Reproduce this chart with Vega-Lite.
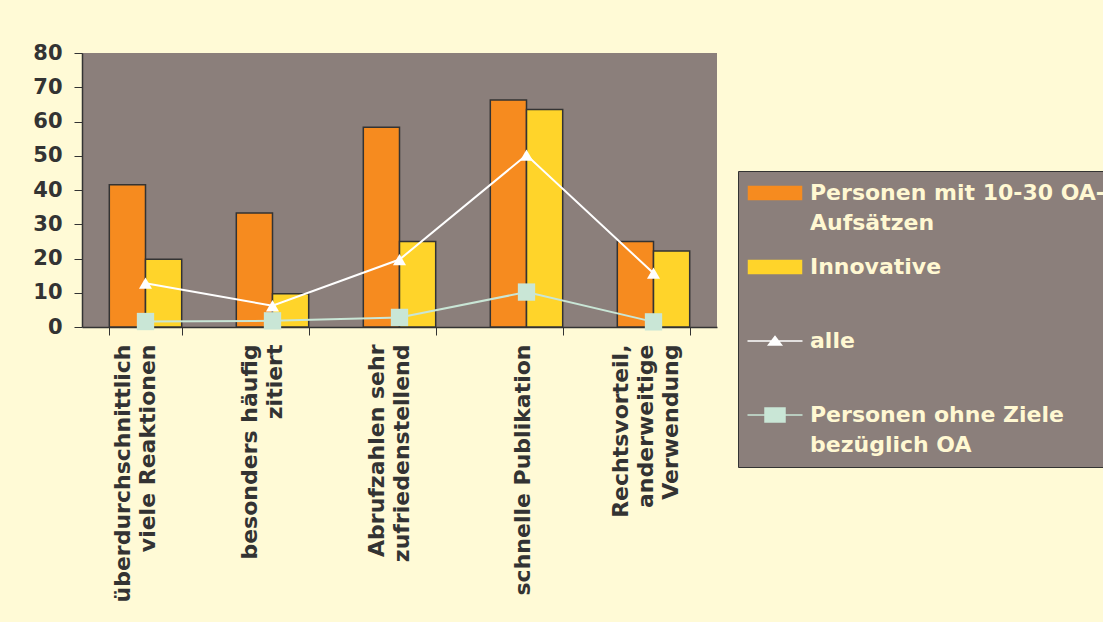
{
  "$schema": "https://vega.github.io/schema/vega-lite/v6.json",
  "width": 635,
  "height": 274,
  "autosize": {"type": "none"},
  "padding": {"left": 82, "top": 53, "right": 386, "bottom": 295},
  "background": "#FFFAD6",
  "config": {"view": {"fill": "#8B7F7B", "stroke": null}, "font": "DejaVu Sans"},
  "data": {
    "values": [
      {"cat": "überdurchschnittlich|viele Reaktionen", "series": "Personen mit 10-30 OA-Aufsätzen", "value": 41.5},
      {"cat": "besonders häufig|zitiert", "series": "Personen mit 10-30 OA-Aufsätzen", "value": 33.3},
      {"cat": "Abrufzahlen sehr|zufriedenstellend", "series": "Personen mit 10-30 OA-Aufsätzen", "value": 58.3},
      {"cat": "schnelle Publikation", "series": "Personen mit 10-30 OA-Aufsätzen", "value": 66.3},
      {"cat": "Rechtsvorteil,|anderweitige|Verwendung", "series": "Personen mit 10-30 OA-Aufsätzen", "value": 25.0},
      {"cat": "überdurchschnittlich|viele Reaktionen", "series": "Innovative", "value": 19.8},
      {"cat": "besonders häufig|zitiert", "series": "Innovative", "value": 9.7},
      {"cat": "Abrufzahlen sehr|zufriedenstellend", "series": "Innovative", "value": 25.0},
      {"cat": "schnelle Publikation", "series": "Innovative", "value": 63.5},
      {"cat": "Rechtsvorteil,|anderweitige|Verwendung", "series": "Innovative", "value": 22.2},
      {"cat": "überdurchschnittlich|viele Reaktionen", "series": "alle", "value": 12.8},
      {"cat": "besonders häufig|zitiert", "series": "alle", "value": 6.2},
      {"cat": "Abrufzahlen sehr|zufriedenstellend", "series": "alle", "value": 19.7},
      {"cat": "schnelle Publikation", "series": "alle", "value": 50.2},
      {"cat": "Rechtsvorteil,|anderweitige|Verwendung", "series": "alle", "value": 15.7},
      {"cat": "überdurchschnittlich|viele Reaktionen", "series": "Personen ohne Ziele bezüglich OA", "value": 1.6},
      {"cat": "besonders häufig|zitiert", "series": "Personen ohne Ziele bezüglich OA", "value": 1.8},
      {"cat": "Abrufzahlen sehr|zufriedenstellend", "series": "Personen ohne Ziele bezüglich OA", "value": 2.8},
      {"cat": "schnelle Publikation", "series": "Personen ohne Ziele bezüglich OA", "value": 10.2},
      {"cat": "Rechtsvorteil,|anderweitige|Verwendung", "series": "Personen ohne Ziele bezüglich OA", "value": 1.5}
    ]
  },
  "encoding": {
    "x": {
      "field": "cat", "type": "nominal", "sort": null,
      "scale": {"paddingInner": 0.43, "paddingOuter": 0.215},
      "axis": {
        "title": null, "labelAngle": 270, "labelAlign": "right", "labelBaseline": "middle",
        "labelExpr": "split(datum.label, '|')",
        "labelFont": "DejaVu Sans", "labelFontSize": 22, "labelFontWeight": "bold", "labelColor": "#333333",
        "labelLineHeight": 25, "labelPadding": 9,
        "labelOffset": {"condition": [
          {"test": "datum.value == 'schnelle Publikation'", "value": -4},
          {"test": "datum.value == 'Rechtsvorteil,|anderweitige|Verwendung'", "value": -33}
        ], "value": -23},
        "labelLimit": 0, "labelOverlap": false,
        "tickBand": "extent", "tickSize": 8, "tickColor": "#333333", "tickWidth": 1,
        "domainColor": "#333333", "domainWidth": 1.5, "grid": false
      }
    },
    "y": {
      "field": "value", "type": "quantitative",
      "scale": {"domain": [0, 80], "nice": false},
      "axis": {
        "title": null, "values": [0, 10, 20, 30, 40, 50, 60, 70, 80],
        "labelFont": "DejaVu Sans", "labelFontSize": 21, "labelFontWeight": "bold", "labelColor": "#333333",
        "labelPadding": 12, "tickSize": 8, "tickColor": "#333333", "tickWidth": 1,
        "domainColor": "#333333", "domainWidth": 1.5, "grid": false
      }
    },
    "color": {
      "field": "series", "type": "nominal",
      "scale": {
        "domain": ["Personen mit 10-30 OA-Aufsätzen", "Innovative", "alle", "Personen ohne Ziele bezüglich OA"],
        "range": ["#F68B1F", "#FFD42A", "#FFFFFF", "#C9E6D6"]
      },
      "legend": {
        "orient": "none", "legendX": 656, "legendY": 118, "title": null,
        "fillColor": "#8B7F7B", "strokeColor": "#333333", "padding": 11,
        "symbolSize": 400, "symbolOffset": 15, "labelOffset": 24,
        "labelFont": "DejaVu Sans", "labelFontSize": 22, "labelFontWeight": "bold", "labelColor": "#FFF8D2",
        "labelLimit": 0, "rowPadding": 22, "labelBaseline": "middle",
        "labelExpr": "datum.label == 'Personen mit 10-30 OA-Aufsätzen' ? ['Personen mit 10-30 OA-', 'Aufsätzen'] : datum.label == 'Personen ohne Ziele bezüglich OA' ? ['Personen ohne Ziele', 'bezüglich OA'] : [datum.label, '']",
        "encode": {
          "labels": {"update": {"lineHeight": {"value": 30}}},
          "symbols": {
            "update": {
              "shape": {"signal": "datum.value == 'alle' ? 'M-2.75,0H2.75M0,-0.45L0.65,0.4H-0.65Z' : datum.value == 'Personen ohne Ziele bezüglich OA' ? 'M-2.75,0H2.75M-1,-0.7H1V0.7H-1Z' : 'M-2.65,-0.65H2.65V0.65H-2.65Z'"},
              "fill": {"signal": "scale('color', datum.value)"},
              "stroke": {"signal": "datum.value == 'alle' || datum.value == 'Personen ohne Ziele bezüglich OA' ? scale('color', datum.value) : '#333333'"},
              "strokeWidth": {"value": 1.5},
              "opacity": {"value": 1},
              "fillOpacity": {"value": 1},
              "strokeOpacity": {"value": 1}
            }
          }
        }
      }
    }
  },
  "layer": [
    {
      "transform": [{"filter": "datum.series == 'Personen mit 10-30 OA-Aufsätzen' || datum.series == 'Innovative'"}],
      "mark": {"type": "bar", "stroke": "#333333", "strokeWidth": 1.5},
      "encoding": {
        "xOffset": {"field": "series", "type": "nominal", "sort": ["Personen mit 10-30 OA-Aufsätzen", "Innovative"], "scale": {"paddingInner": 0, "paddingOuter": 0}}
      }
    },
    {
      "transform": [{"filter": "datum.series == 'alle' || datum.series == 'Personen ohne Ziele bezüglich OA'"}],
      "mark": {"type": "line", "strokeWidth": 2}
    },
    {
      "transform": [{"filter": "datum.series == 'alle' || datum.series == 'Personen ohne Ziele bezüglich OA'"}],
      "mark": {"type": "point", "filled": true, "opacity": 1, "strokeWidth": 0},
      "encoding": {
        "shape": {"field": "series", "type": "nominal", "scale": {"domain": ["alle", "Personen ohne Ziele bezüglich OA"], "range": ["triangle-up", "square"]}, "legend": null},
        "size": {"field": "series", "type": "nominal", "scale": {"domain": ["alle", "Personen ohne Ziele bezüglich OA"], "range": [170, 300]}, "legend": null}
      }
    }
  ]
}
